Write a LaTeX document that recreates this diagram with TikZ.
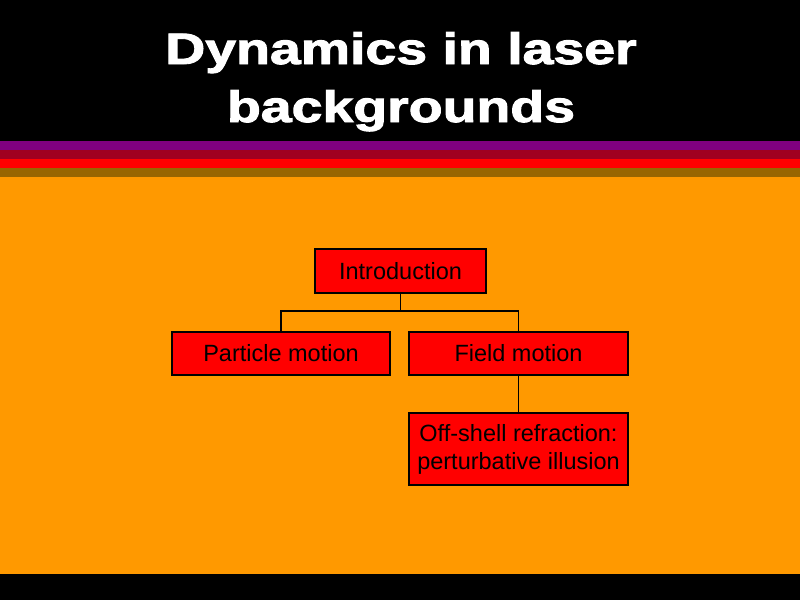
\documentclass[tikz,border=0pt]{standalone}
\usepackage{fontspec}
\setmainfont{Liberation Sans}
\newfontfamily\titlefont[FakeBold=2]{Liberation Sans Bold}
\definecolor{bgorange}{HTML}{FF9900}
\definecolor{stpurple}{HTML}{800080}
\definecolor{stcrimson}{HTML}{A00020}
\definecolor{stred}{HTML}{FF0000}
\definecolor{stbrown}{HTML}{996600}
\definecolor{boxred}{HTML}{FF0000}
\tikzset{
  box/.style={draw=black, line width=1.8pt, fill=boxred, inner sep=0pt,
    font=\fontsize{23.5}{28}\selectfont, align=center, text=black},
  titletext/.style={text=white, font=\titlefont\fontsize{44}{50}\selectfont, anchor=base, inner sep=0pt},
  link/.style={draw=black, line width=1.8pt}
}
\begin{document}
\begin{tikzpicture}[x=1pt,y=-1pt]
\useasboundingbox (0,0) rectangle (800,600);
\fill[black] (0,0) rectangle (800,141);
\fill[stpurple] (0,141) rectangle (800,150);
\fill[stcrimson] (0,150) rectangle (800,159);
\fill[stred] (0,159) rectangle (800,168);
\fill[stbrown] (0,168) rectangle (800,177);
\fill[bgorange] (0,177) rectangle (800,574);
\fill[black] (0,574) rectangle (800,600);

\node[titletext, xscale=1.26] (t1) at (401,64) {Dynamics in laser};
\node[titletext, xscale=1.26] (t2) at (401,122) {backgrounds};

\node[box, minimum width=171pt, minimum height=44pt] (intro) at (400.5,271) {Introduction};
\node[box, minimum width=218pt, minimum height=43pt] (part) at (281,353.5) {Particle motion};
\node[box, minimum width=219pt, minimum height=43pt] (field) at (518.5,353.5) {Field motion};
\node[box, minimum width=219pt, minimum height=72pt] (off) at (518.5,449) {Off-shell refraction:\\perturbative illusion};

\coordinate (j) at (400.5,311);
\draw[link] (intro.south) -- (j);
\draw[link] (part.north) |- (j) -| (field.north);
\draw[link] (field.south) -- (off.north);
\end{tikzpicture}
\end{document}
